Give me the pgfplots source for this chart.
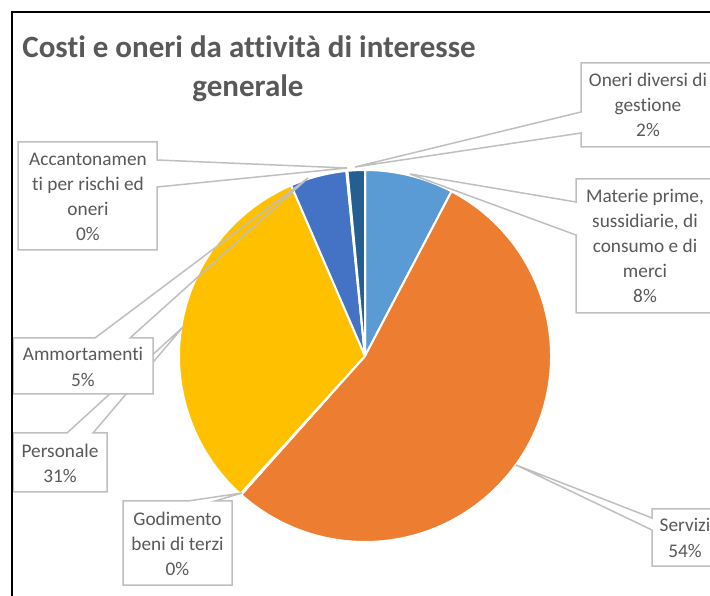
\documentclass[border=0pt]{standalone}
\usepackage{pgfplots}
\pgfplotsset{compat=1.18}
\usepackage{fontspec}
\setmainfont{Carlito}[Ligatures={NoCommon}]
\definecolor{cMat}{HTML}{5B9BD5}
\definecolor{cSer}{HTML}{ED7D31}
\definecolor{cGod}{HTML}{A5A5A5}
\definecolor{cPer}{HTML}{FFC000}
\definecolor{cAmm}{HTML}{4472C4}
\definecolor{cAcc}{HTML}{70AD47}
\definecolor{cOne}{HTML}{255E91}
\definecolor{txt}{HTML}{595959}
\definecolor{lbl}{HTML}{BFBFBF}
\newcommand{\C}[2]{(axis cs:#1,-#2)}
\begin{document}
\begin{tikzpicture}
\begin{axis}[
  width=710pt, height=595pt, scale only axis,
  xmin=0, xmax=710, ymin=-595, ymax=0,
  hide axis, clip=false,
]
% pie slices: share in percent / colour (clockwise from the top)
\gdef\cum{0}
\foreach \v/\c in {7.7/cMat, 53.9/cSer, 0.1/cGod, 31.8/cPer, 4.9/cAmm, 0.1/cAcc, 1.5/cOne}{
  \pgfmathsetmacro\a{90-3.6*\cum}
  \pgfmathsetmacro\b{90-3.6*(\cum+\v)}
  \pgfmathsetmacro\px{365+186*cos(\a)}
  \pgfmathsetmacro\py{-356+186*sin(\a)}
  \edef\temp{\noexpand\fill[\c, draw=white, line width=2pt, line join=round] (axis cs:365,-356) -- (axis cs:\px,\py) arc[start angle=\a, end angle=\b, radius=186] -- cycle;}
  \temp
  \pgfmathsetmacro\newcum{\cum+\v}
  \global\let\cum\newcum
}
\tikzset{lab/.style={font=\fontsize{19.3}{25.2}\selectfont, text=txt, align=center, inner sep=0pt},
         co/.style={draw=lbl, line width=1.5pt, line join=miter}}
% Oneri diversi di gestione
\fill[white] \C{581}{63} rectangle \C{716}{147};
\draw[co] \C{581}{63} -- \C{716}{63} -- \C{716}{147} -- \C{581}{147} -- \C{581}{133} -- \C{355}{167} -- \C{581}{112} -- cycle;
\node[lab] at \C{648}{105} {Oneri diversi di\\gestione\\2\%};
% Materie prime
\fill[white] \C{576}{179} rectangle \C{714}{313};
\draw[co] \C{576}{179} -- \C{714}{179} -- \C{714}{313} -- \C{576}{313} -- \C{576}{235} -- \C{410}{174} -- \C{576}{202} -- cycle;
\node[lab] at \C{645}{246} {Materie prime,\\sussidiarie, di\\consumo e di\\merci\\8\%};
% Servizi
\fill[white] \C{652}{509} rectangle \C{718}{566};
\draw[co] \C{652}{509} -- \C{718}{509} -- \C{718}{566} -- \C{652}{566} -- \C{652}{530} -- \C{516}{465} -- \C{652}{518} -- cycle;
\node[lab] at \C{685}{538} {Servizi\\54\%};
% Godimento beni di terzi
\fill[white] \C{123}{501} rectangle \C{232}{585};
\draw[co] \C{123}{501} -- \C{188}{501} -- \C{242}{493} -- \C{215}{501} -- \C{232}{501} -- \C{232}{585} -- \C{123}{585} -- cycle;
\node[lab] at \C{177.5}{544} {Godimento\\beni di terzi\\0\%};
% Personale
\fill[white] \C{13}{433} rectangle \C{107}{492};
\draw[co] \C{13}{433} -- \C{67}{433} -- \C{183}{327} -- \C{93}{433} -- \C{107}{433} -- \C{107}{492} -- \C{13}{492} -- cycle;
\node[lab] at \C{60}{463} {Personale\\31\%};
% Ammortamenti
\fill[white] \C{13}{338} rectangle \C{153}{394};
\draw[co] \C{13}{338} -- \C{95}{338} -- \C{308}{178} -- \C{130}{338} -- \C{153}{338} -- \C{153}{394} -- \C{13}{394} -- cycle;
\node[lab] at \C{83}{367} {Ammortamenti\\5\%};
% Accantonamenti
\fill[white] \C{18}{142} rectangle \C{157}{250};
\draw[co] \C{18}{142} -- \C{157}{142} -- \C{157}{160} -- \C{347}{168} -- \C{157}{187} -- \C{157}{250} -- \C{18}{250} -- cycle;
\node[lab] at \C{88}{197} {Accantonamen\\ti per rischi ed\\oneri\\0\%};
% title
\node[font=\fontsize{31}{38}\selectfont\bfseries, text=txt, anchor=base] at \C{249}{58} {Costi e oneri da attività di interesse};
\node[font=\fontsize{31}{38}\selectfont\bfseries, text=txt, anchor=base] at \C{248}{97} {generale};
% frame
\draw[black, line width=2.4pt] \C{12}{600} -- \C{12}{12} -- \C{720}{12};
\end{axis}
\pgfresetboundingbox
\useasboundingbox (current axis.south west) rectangle (current axis.north east);
\end{tikzpicture}
\end{document}
